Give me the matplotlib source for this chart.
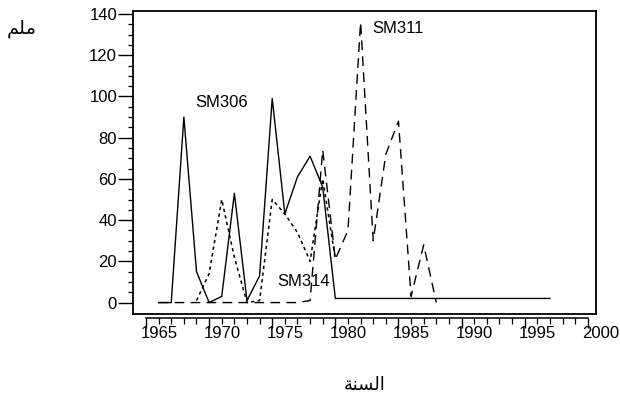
import numpy as np
import matplotlib
matplotlib.use('Agg')
import matplotlib.pyplot as plt
import matplotlib.transforms as mtransforms
from matplotlib.ticker import FixedLocator

plt.rcParams['font.family'] = ['Liberation Sans', 'DejaVu Sans']

years_306 = list(range(1966, 1998))
sm306 = [0, 0, 90, 15, 0, 3, 53, 1, 13, 99, 43, 61, 71, 56, 2,
         2, 2, 2, 2, 2, 2, 2, 2, 2, 2, 2, 2, 2, 2, 2, 2, 2]

years_311 = list(range(1966, 1989))
sm311 = [0, 0, 0, 0, 0, 0, 0, 0, 0, 0, 0, 0, 1,
         74, 21, 35, 136, 30, 72, 88, 3, 28, 0]

years_314 = list(range(1969, 1981))
sm314 = [1, 14, 50, 22, 0, 1, 50, 43, 34, 20, 60, 21]

x_ticks = [1965, 1970, 1975, 1980, 1985, 1990, 1995, 2000]
y_ticks = [0, 20, 40, 60, 80, 100, 120, 140]

# (label, x, y) for the series names
series_labels = [('SM306', 1968.9, 97), ('SM311', 1982.9, 133), ('SM314', 1975.4, 10)]

y_title = '\uFEE2\uFEE0\uFEE3'                     # ملم
x_title = '\uFE94\uFEE8\uFEB4\uFEDF\uFE8D'         # السنة


def plot():
    fig = plt.figure(figsize=(6.2, 3.99), dpi=100)
    ax = fig.add_axes([133 / 620, 1 - 313.5 / 399, 463 / 620, 303 / 399])

    ax.plot(years_306, sm306, color='black', lw=1.0)
    ax.plot(years_311, sm311, color='black', lw=1.0, dashes=(7, 4.5))
    ax.plot(years_314, sm314, color='black', lw=1.1, dashes=(2.2, 2.2))

    ax.set_xlim(1963.97, 2000.65)

    for s in ['left', 'top', 'right']:
        ax.spines[s].set_linewidth(1.3)
    ax.spines['bottom'].set_position(('outward', 3))
    ax.spines['bottom'].set_bounds(1965, 2000)
    ax.spines['bottom'].set_linewidth(1.1)
    # box bottom edge
    ax.plot([0, 1], [0, 0], transform=ax.transAxes, color='black', lw=1.3, clip_on=False)

    ax.set_xticks(x_ticks)
    ax.set_xticklabels([str(t) for t in x_ticks])
    ax.xaxis.set_minor_locator(FixedLocator(np.arange(1965, 2001, 1)))
    ax.set_yticks(y_ticks)
    ax.set_yticklabels([str(t) for t in y_ticks])
    ax.yaxis.set_minor_locator(FixedLocator(np.arange(0, 141, 5)))
    ax.set_ylim(-5.3, 141.7)

    ax.tick_params(axis='x', which='major', length=7, width=1.0, direction='out',
                   labelsize=12, pad=-1)
    ax.tick_params(axis='x', which='minor', length=4, width=0.9, direction='out')
    ax.tick_params(axis='y', which='major', length=11, width=1.0, direction='out',
                   labelsize=12, pad=0.5)
    ax.tick_params(axis='y', which='minor', length=3.5, width=0.9, direction='out')

    # the labels of the scan sit to the right of their ticks
    offset = mtransforms.ScaledTranslation(13 / 100, 0, fig.dpi_scale_trans)
    for lab in ax.get_xticklabels():
        lab.set_transform(lab.get_transform() + offset)

    for name, x, y in series_labels:
        ax.text(x, y, name, fontsize=12, ha='left', va='center')

    fig.text(22 / 620, 1 - 28 / 399, y_title, family=['DejaVu Sans'], fontsize=14,
             ha='center', va='center')
    fig.text(365 / 620, 1 - 385 / 399, x_title, family=['DejaVu Sans'], fontsize=13,
             ha='center', va='center')

    fig.savefig('out.png', dpi=100)


if __name__ == '__main__':
    plot()
